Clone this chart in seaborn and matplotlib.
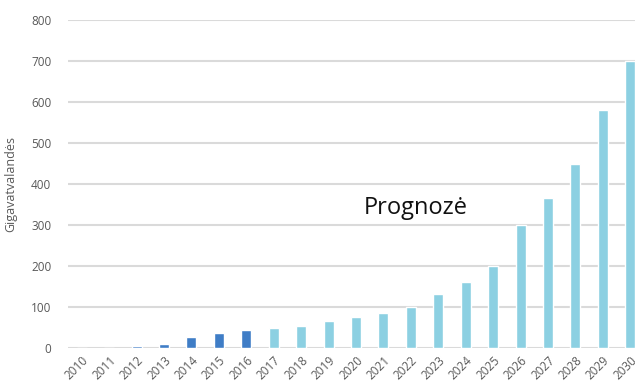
import matplotlib
matplotlib.use("Agg")
import matplotlib.pyplot as plt
import seaborn as sns
import pandas as pd

# Annual electricity, gigawatt-hours
years = [str(y) for y in range(2010, 2031)]
values = [0, 0, 4, 10, 28, 37, 43, 48, 54, 66, 76, 85, 101, 131, 161, 201,
          300, 367, 450, 580, 700]
period = ["Faktas"] * 7 + ["Prognozė"] * 14
palette = {"Faktas": "#3F7DC6", "Prognozė": "#8CD0E2"}

df = pd.DataFrame({"metai": years, "GWh": values, "laikotarpis": period})

sns.set_theme(style="white")
plt.rcParams["font.family"] = ["Open Sans", "DejaVu Sans"]

fig = plt.figure(figsize=(6.35, 3.85), dpi=100)
ax = fig.add_axes([68 / 635, 1 - 348 / 385, (644 - 68) / 635, (348 - 20) / 385])

sns.barplot(data=df, x="metai", y="GWh", hue="laikotarpis", palette=palette,
            dodge=False, width=0.36, saturation=1, legend=False, ax=ax, zorder=3)

ax.set_ylim(0, 800)
ax.set_xlim(-0.5, 20.5)
ax.set_yticks(range(0, 801, 100))
ax.yaxis.grid(True, color="#DADADA", linewidth=1.5, zorder=0)
ax.set_axisbelow(True)
for s in ax.spines.values():
    s.set_visible(False)

ax.tick_params(axis="y", labelsize=8.5, colors="#595959", length=0, pad=12)
ax.tick_params(axis="x", labelsize=8.5, colors="#595959", length=0, pad=4)
plt.setp(ax.get_xticklabels(), rotation=45, ha="right", rotation_mode="anchor")

ax.set_xlabel("")
ax.set_ylabel("Gigavatvalandės", fontsize=9, color="#595959", labelpad=10)

ax.text(0.603, 0.427, "Prognozė", transform=ax.transAxes, fontsize=17,
        color="#111111", ha="center", va="center")

fig.savefig("out.png", dpi=100)
